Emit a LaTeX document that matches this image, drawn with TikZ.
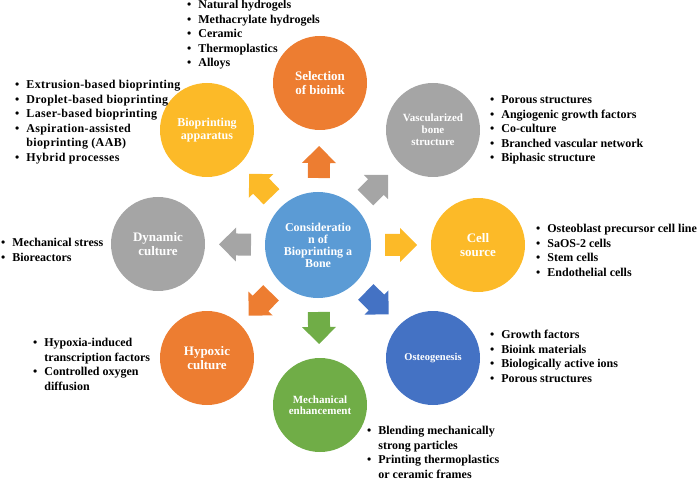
\documentclass[tikz,border=0pt]{standalone}
\usepackage{fontspec}
\setmainfont{Liberation Serif}
\usetikzlibrary{calc}
\definecolor{bioorange}{RGB}{237,125,49}
\definecolor{bioyellow}{RGB}{252,186,40}
\definecolor{biogray}{RGB}{165,165,165}
\definecolor{bioblue}{RGB}{91,155,213}
\definecolor{biodeep}{RGB}{68,114,196}
\definecolor{biogreen}{RGB}{112,173,71}
\tikzset{
  topic/.style={
    circle,
    fill=#1,
    minimum size=94pt,
    inner sep=0pt,
    text=white,
    align=center,
    font=\bfseries\fontsize{13}{14}\selectfont
  },
  notes/.style={
    anchor=north west,
    inner sep=0pt,
    font=\bfseries\fontsize{12}{14.5}\selectfont
  }
}
\newcommand{\blockarrow}[2]{%
  \fill[#1] ($(hub)!67pt!(#2)!11pt!90:(#2)$) -- ($(hub)!82pt!(#2)!11pt!90:(#2)$)
    -- ($(hub)!82pt!(#2)!17pt!90:(#2)$) -- ($(hub)!99pt!(#2)$)
    -- ($(hub)!82pt!(#2)!17pt!-90:(#2)$) -- ($(hub)!82pt!(#2)!11pt!-90:(#2)$)
    -- ($(hub)!67pt!(#2)!11pt!-90:(#2)$) -- cycle;}
\newcommand{\itm}{\textbullet &}

\begin{document}
\begin{tikzpicture}[x=1pt, y=-1pt]
  \useasboundingbox (0,0) rectangle (699,481);

  \node[topic=bioblue, minimum size=106pt, font=\bfseries\fontsize{12}{12}\selectfont] (hub) at (318,245)
    {Consideratio\\n of\\Bioprinting a\\Bone};
  \node[topic=bioorange] (sel) at (320,83) {Selection\\of bioink};
  \node[topic=bioyellow, font=\bfseries\fontsize{12}{13}\selectfont] (app) at (207,130) {Bioprinting\\apparatus};
  \node[topic=biogray, font=\bfseries\fontsize{11}{12}\selectfont] (vas) at (433,130) {Vascularized\\bone\\structure};
  \node[topic=bioyellow] (cell) at (478,245) {Cell\\source};
  \node[topic=biogray] (dyn) at (158,244) {Dynamic\\culture};
  \node[topic=bioorange] (hyp) at (207,358) {Hypoxic\\culture};
  \node[topic=biogreen, font=\bfseries\fontsize{11}{11.5}\selectfont] (mech) at (320,405) {Mechanical\\enhancement};
  \node[topic=biodeep, font=\bfseries\fontsize{10.5}{12}\selectfont] (ost) at (433,358) {Osteogenesis};

  \foreach \c/\s in {bioorange/sel, biogray/vas, bioyellow/cell, biodeep/ost,
                     biogreen/mech, bioorange/hyp, biogray/dyn, bioyellow/app}
    \blockarrow{\c}{\s};

  \node[notes] (selnotes) at (187,-1.6) {\begin{tabular}{@{}l@{\hspace{7pt}}l@{}}
    \itm Natural hydrogels\\ \itm Methacrylate hydrogels\\ \itm Ceramic\\
    \itm Thermoplastics\\ \itm Alloys\end{tabular}};
  \node[notes, font=\bfseries\fontsize{12}{14.5}\selectfont\addfontfeature{LetterSpace=3}] (appnotes) at (15,78.4)
    {\begin{tabular}{@{}l@{\hspace{7pt}}l@{}}
    \itm Extrusion-based bioprinting\\ \itm Droplet-based bioprinting\\
    \itm Laser-based bioprinting\\ \itm Aspiration-assisted\\ & bioprinting (AAB)\\
    \itm Hybrid processes\end{tabular}};
  \node[notes] (vasnotes) at (490,93.4) {\begin{tabular}{@{}l@{\hspace{7pt}}l@{}}
    \itm Porous structures\\ \itm Angiogenic growth factors\\ \itm Co-culture\\
    \itm Branched vascular network\\ \itm Biphasic structure\end{tabular}};
  \node[notes] (cellnotes) at (536,222.4) {\begin{tabular}{@{}l@{\hspace{7pt}}l@{}}
    \itm Osteoblast precursor cell line\\ \itm SaOS-2 cells\\ \itm Stem cells\\
    \itm Endothelial cells\end{tabular}};
  \node[notes] (dynnotes) at (1,236.4) {\begin{tabular}{@{}l@{\hspace{7pt}}l@{}}
    \itm Mechanical stress\\ \itm Bioreactors\end{tabular}};
  \node[notes] (hypnotes) at (33,336.4) {\begin{tabular}{@{}l@{\hspace{7pt}}l@{}}
    \itm Hypoxia-induced\\ & transcription factors\\ \itm Controlled oxygen\\
    & diffusion\end{tabular}};
  \node[notes] (ostnotes) at (490,328.4) {\begin{tabular}{@{}l@{\hspace{7pt}}l@{}}
    \itm Growth factors\\ \itm Bioink materials\\ \itm Biologically active ions\\
    \itm Porous structures\end{tabular}};
  \node[notes] (mechnotes) at (367,424.4) {\begin{tabular}{@{}l@{\hspace{7pt}}l@{}}
    \itm Blending mechanically\\ & strong particles\\ \itm Printing thermoplastics\\
    & or ceramic frames\end{tabular}};
\end{tikzpicture}
\end{document}
